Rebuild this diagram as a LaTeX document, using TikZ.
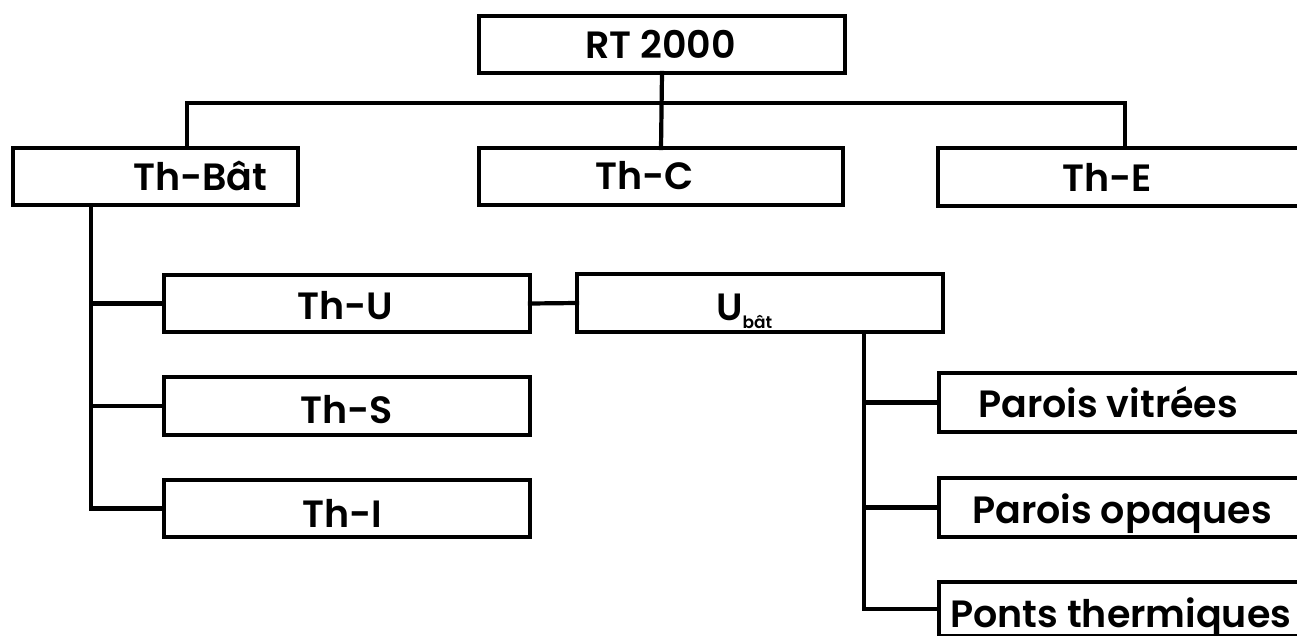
\documentclass[tikz,border=0pt]{standalone}
\usepackage{fontspec}
\setmainfont{Poppins}
\newfontfamily\lblfont{Poppins SemiBold}
\begin{document}
\begin{tikzpicture}[x=1pt,y=-1pt,
  box/.style={draw=black,line width=4.4pt,rectangle,inner sep=0pt,outer sep=0pt,fill=white},
  lbl/.style={anchor=base west,inner sep=0pt,font=\lblfont\fontsize{38}{38}\selectfont},
  link/.style={draw=black,line width=4.2pt,line cap=rect}]
\useasboundingbox (0,0) rectangle (1297,635);
\clip (0,0) rectangle (1297,635);
% boxes: centre x, centre y, width, height
\node[box,minimum width=366pt,minimum height=57pt] (rt)   at (662,44.5) {};
\node[box,minimum width=285pt,minimum height=57pt] (thb)  at (155.5,176.5) {};
\node[box,minimum width=364pt,minimum height=57pt] (thc)  at (661,176.5) {};
\node[box,minimum width=392pt,minimum height=58pt] (the)  at (1134,177) {};
\node[box,minimum width=366pt,minimum height=57pt] (thu)  at (347,303.5) {};
\node[box,minimum width=366pt,minimum height=58pt] (ths)  at (347,406) {};
\node[box,minimum width=366pt,minimum height=57pt] (thi)  at (347,508.5) {};
\node[box,minimum width=366pt,minimum height=58pt] (ubat) at (760,303) {};
\node[box,minimum width=391pt,minimum height=59pt] (pv)   at (1134.5,402.5) {};
\node[box,minimum width=391pt,minimum height=59pt] (po)   at (1134.5,507.5) {};
\node[box,minimum width=391pt,minimum height=54pt] (pt)   at (1134.5,609) {};
% labels
\node[lbl] (lrt)  at (585,58)  {RT 2000};
\node[lbl] (lthb) at (133,190) {Th-Bât};
\node[lbl] (lthc) at (595,189) {Th-C};
\node[lbl] (lthe) at (1062,191) {Th-E};
\node[lbl] (lthu) at (297,319) {Th-U};
\node[lbl] (lths) at (300,423) {Th-S};
\node[lbl] (lthi) at (302,527) {Th-I};
\node[lbl] (lub)  at (716,320) {U\raisebox{-8pt}{\fontsize{17}{17}\selectfont bât}};
\node[lbl] (lpv)  at (978,417) {Parois vitrées};
\node[lbl] (lpo)  at (972,523) {Parois opaques};
\node[lbl] (lpt)  at (950,627) {Ponts thermiques};
% connectors
\coordinate (busL) at (187,103);
\coordinate (busR) at (1125,103);
\coordinate (spA) at (91,0);
\coordinate (spB) at (864,0);
\draw[link] (rt.south) -- (thc.north);
\draw[link] (thb.north -| busL) -- (busL) -- (busR) -- (the.north -| busR);
\draw[link] (thb.south -| spA) |- (thi.west);
\draw[link] (spA |- thu.west) -- (thu.west);
\draw[link] (spA |- ths.west) -- (ths.west);
\draw[link] (thu.east) -- (ubat.west);
\draw[link] (ubat.south -| spB) |- (pt.west);
\draw[link] (spB |- pv.west) -- (pv.west);
\draw[link] (spB |- po.west) -- (po.west);
\end{tikzpicture}
\end{document}
